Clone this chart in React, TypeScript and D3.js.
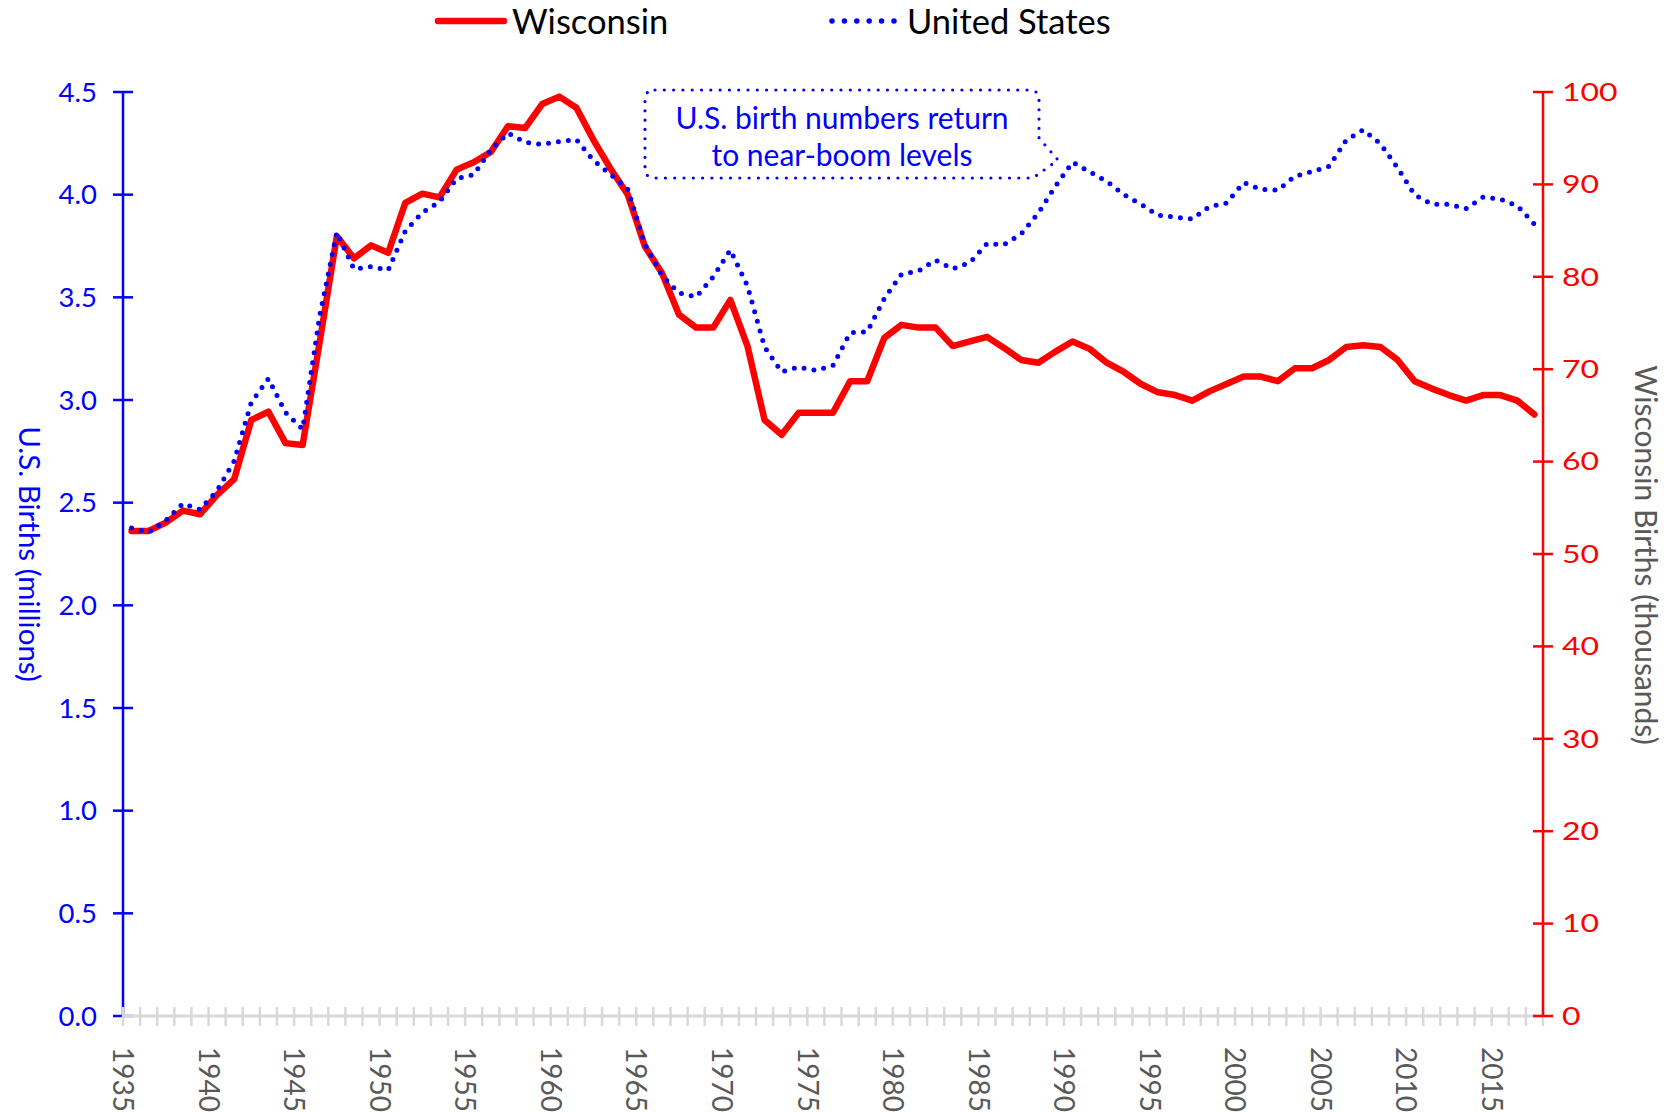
import React, { useEffect, useRef } from 'react';
import * as d3 from 'd3';

// Years shown on the category axis
const years = d3.range(1935, 2018);

// U.S. births, millions (left axis)
const usBirths = [
  2.377, 2.355, 2.413, 2.496, 2.466, 2.559, 2.703, 2.989, 3.104, 2.939,
  2.858, 3.411, 3.817, 3.637, 3.649, 3.632, 3.823, 3.913, 3.965, 4.078,
  4.097, 4.218, 4.300, 4.255, 4.245, 4.258, 4.268, 4.167, 4.098, 4.027,
  3.760, 3.606, 3.521, 3.502, 3.600, 3.731, 3.556, 3.258, 3.137, 3.160,
  3.144, 3.168, 3.327, 3.333, 3.494, 3.612, 3.629, 3.681, 3.639, 3.669,
  3.761, 3.757, 3.809, 3.910, 4.041, 4.158, 4.111, 4.065, 4.000, 3.953,
  3.900, 3.891, 3.881, 3.942, 3.959, 4.059, 4.026, 4.022, 4.090, 4.112,
  4.138, 4.266, 4.316, 4.248, 4.131, 3.999, 3.954, 3.953, 3.932, 3.988,
  3.978, 3.946, 3.856,
];

// Wisconsin births, thousands (right axis)
const wiBirths = [
  52.5, 52.5, 53.4, 54.7, 54.3, 56.4, 58.1, 64.5, 65.4, 62.0,
  61.8, 73.0, 84.4, 82.0, 83.4, 82.6, 88.0, 89.0, 88.6, 91.6,
  92.4, 93.5, 96.3, 96.1, 98.7, 99.5, 98.3, 94.8, 91.7, 88.9,
  83.3, 80.4, 75.9, 74.5, 74.5, 77.5, 72.5, 64.5, 62.9, 65.3,
  65.3, 65.3, 68.7, 68.7, 73.4, 74.8, 74.5, 74.5, 72.5, 73.0,
  73.5, 72.3, 71.0, 70.7, 71.9, 73.0, 72.2, 70.7, 69.7, 68.4,
  67.5, 67.2, 66.6, 67.6, 68.4, 69.2, 69.2, 68.7, 70.1, 70.1,
  71.0, 72.4, 72.6, 72.4, 71.0, 68.7, 67.9, 67.2, 66.6, 67.2,
  67.2, 66.6, 65.1,
];

const usTicks = [0, 0.5, 1, 1.5, 2, 2.5, 3, 3.5, 4, 4.5];
const wiTicks = [0, 10, 20, 30, 40, 50, 60, 70, 80, 90, 100];
const noteLines = ['U.S. birth numbers return', 'to near-boom levels'];

const FONT = 'Lato, "Open Sans", "DejaVu Sans", sans-serif';

function App() {
  const ref = useRef<SVGSVGElement>(null);

  useEffect(() => {
    if (!ref.current) return;
    const svg = d3.select(ref.current);
    svg.selectAll('*').remove();

    const left = 123, right = 1543, top = 92, bottom = 1016;

    const x = d3.scaleBand<number>().domain(years).range([left, right]).padding(0);
    const cx = (yr: number) => (x(yr) as number) + x.bandwidth() / 2;
    const yL = d3.scaleLinear().domain([0, 4.5]).range([bottom, top]);
    const yR = d3.scaleLinear().domain([0, 100]).range([bottom, top]);

    // left axis (blue)
    const gl = svg.append('g');
    gl.append('line').attr('x1', left).attr('x2', left).attr('y1', top).attr('y2', bottom)
      .attr('stroke', '#0000ff').attr('stroke-width', 2.5);
    gl.selectAll('line.t').data(usTicks).enter().append('line')
      .attr('x1', left - 10).attr('x2', left + 10)
      .attr('y1', d => yL(d)).attr('y2', d => yL(d))
      .attr('stroke', '#0000ff').attr('stroke-width', 2.5);
    gl.selectAll('text').data(usTicks).enter().append('text')
      .attr('x', 97).attr('y', d => yL(d)).attr('dy', '0.35em')
      .attr('text-anchor', 'end').attr('fill', '#0000ff')
      .attr('font-family', FONT).attr('font-size', 27.5)
      .text(d => d3.format('.1f')(d));

    // category axis (light gray)
    const gx = svg.append('g');
    gx.append('line').attr('x1', left).attr('x2', right).attr('y1', bottom).attr('y2', bottom)
      .attr('stroke', '#d9d9d9').attr('stroke-width', 3);
    const edges = years.map(yr => x(yr) as number).concat([right]);
    gx.selectAll('line.t').data(edges).enter().append('line')
      .attr('x1', d => d).attr('x2', d => d).attr('y1', bottom - 9).attr('y2', bottom + 10)
      .attr('stroke', '#d9d9d9').attr('stroke-width', 2.5);
    gx.selectAll('text').data(years.filter(yr => yr % 5 === 0)).enter().append('text')
      .attr('transform', d => `translate(${x(d)},1047) rotate(90)`)
      .attr('dy', '0.35em').attr('fill', '#595959')
      .attr('font-family', FONT).attr('font-size', 28)
      .text(d => d);

    // right axis (red)
    const gr = svg.append('g');
    gr.append('line').attr('x1', right).attr('x2', right).attr('y1', top).attr('y2', bottom)
      .attr('stroke', '#ff0000').attr('stroke-width', 2.5);
    gr.selectAll('line.t').data(wiTicks).enter().append('line')
      .attr('x1', right - 10).attr('x2', right + 10)
      .attr('y1', d => yR(d)).attr('y2', d => yR(d))
      .attr('stroke', '#ff0000').attr('stroke-width', 2.5);
    gr.selectAll('text').data(wiTicks).enter().append('text')
      .attr('transform', d => `translate(1562,${yR(d)}) scale(1.28,1)`)
      .attr('dy', '0.35em')
      .attr('fill', '#ff0000')
      .attr('font-family', FONT).attr('font-size', 25)
      .text(d => d);

    // axis titles
    svg.append('text')
      .attr('transform', 'translate(29,554) rotate(90)')
      .attr('text-anchor', 'middle').attr('dy', '0.35em')
      .attr('fill', '#0000ff').attr('font-family', FONT).attr('font-size', 29.5)
      .text('U.S. Births (millions)');
    svg.append('text')
      .attr('transform', 'translate(1645,555) rotate(90)')
      .attr('text-anchor', 'middle').attr('dy', '0.35em')
      .attr('fill', '#595959').attr('font-family', FONT).attr('font-size', 30)
      .text('Wisconsin Births (thousands)');

    // series
    const wiLine = d3.line<number>().x((_, i) => cx(years[i])).y(d => yR(d));
    const usLine = d3.line<number>().x((_, i) => cx(years[i])).y(d => yL(d));
    svg.append('path').attr('d', wiLine(wiBirths))
      .attr('fill', 'none').attr('stroke', '#ff0000').attr('stroke-width', 6.5)
      .attr('stroke-linejoin', 'round').attr('stroke-linecap', 'round');
    svg.append('path').attr('d', usLine(usBirths))
      .attr('fill', 'none').attr('stroke', '#0000ff').attr('stroke-width', 5)
      .attr('stroke-dasharray', '0 10').attr('stroke-linecap', 'round');

    // callout
    svg.append('path')
      .attr('d', 'M655,90 H1029 Q1039,90 1039,100 V138 L1058,160 L1033,178 H655 Q645,178 645,168 V100 Q645,90 655,90 Z')
      .attr('fill', 'none').attr('stroke', '#0000ff').attr('stroke-width', 3.2)
      .attr('stroke-dasharray', '0 9.3').attr('stroke-linecap', 'round');
    svg.selectAll('text.note').data(noteLines).enter().append('text')
      .attr('x', 842).attr('y', (_, i) => 129 + i * 37)
      .attr('text-anchor', 'middle').attr('fill', '#0000ff')
      .attr('font-family', FONT).attr('font-size', 30)
      .text(d => d);

    // legend
    svg.append('line').attr('x1', 438).attr('x2', 504).attr('y1', 21).attr('y2', 21)
      .attr('stroke', '#ff0000').attr('stroke-width', 6.5).attr('stroke-linecap', 'round');
    svg.append('text').attr('x', 512).attr('y', 34)
      .attr('font-family', FONT).attr('font-size', 34.5).attr('fill', '#000')
      .text('Wisconsin');
    svg.append('line').attr('x1', 832).attr('x2', 894).attr('y1', 21).attr('y2', 21)
      .attr('stroke', '#0000ff').attr('stroke-width', 5.5)
      .attr('stroke-dasharray', '0 12.4').attr('stroke-linecap', 'round');
    svg.append('text').attr('x', 907).attr('y', 34)
      .attr('font-family', FONT).attr('font-size', 34.5).attr('fill', '#000')
      .text('United States');
  }, []);

  return (
    <svg ref={ref} width={1675} height={1112}
      style={{ position: 'absolute', left: 0, top: 0, background: '#fff' }} />
  );
}

export default App;
